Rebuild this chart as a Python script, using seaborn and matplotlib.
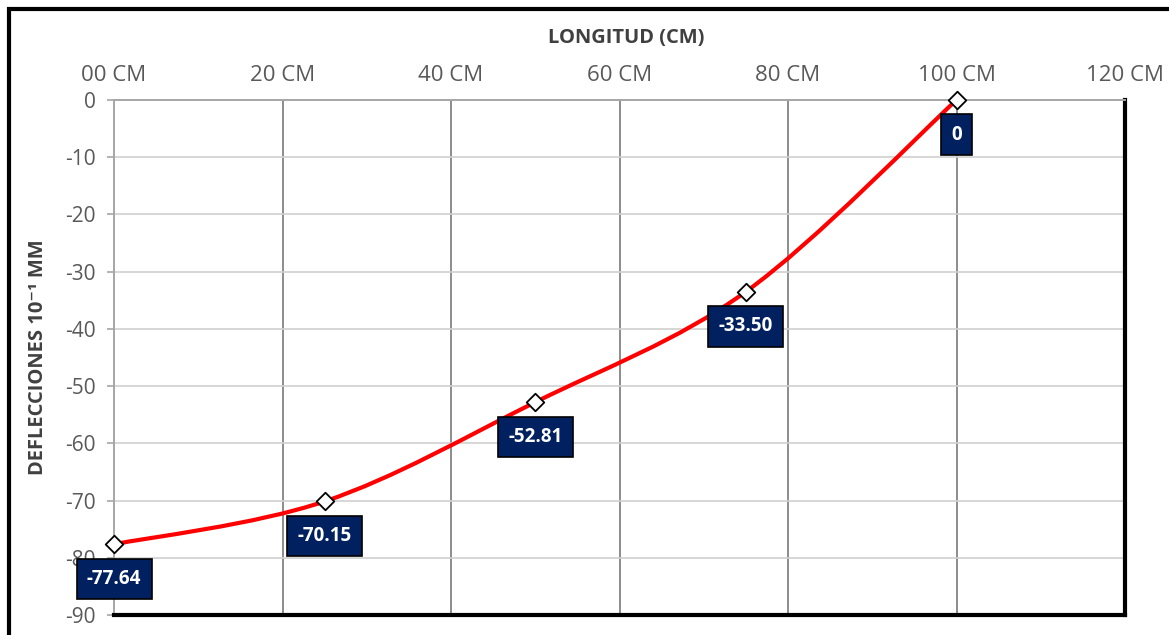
import numpy as np
import pandas as pd
import matplotlib
matplotlib.use("Agg")
import matplotlib.pyplot as plt
from matplotlib.path import Path
from matplotlib.patches import PathPatch, Rectangle
import seaborn as sns

# Deflection readings along the beam
longitud_cm = [0, 25, 50, 75, 100]
deflexion = [-77.64, -70.15, -52.81, -33.50, 0.0]
etiquetas = ["-77.64", "-70.15", "-52.81", "-33.50", "0"]
x_ticks = [0, 20, 40, 60, 80, 100, 120]
x_tick_labels = ["00 CM", "20 CM", "40 CM", "60 CM", "80 CM", "100 CM", "120 CM"]
y_ticks = [0, -10, -20, -30, -40, -50, -60, -70, -80, -90]

df = pd.DataFrame({"x": longitud_cm, "y": deflexion})

sns.set_theme(style="white")
plt.rcParams["font.family"] = ["Open Sans", "DejaVu Sans"]

fig = plt.figure(figsize=(11.69, 6.35), dpi=100)
ax = fig.add_axes([114 / 1169, 1 - 615 / 635, (1125 - 114) / 1169, (615 - 100) / 635])

ax.set_xlim(0, 120)
ax.set_ylim(-90, 0)

# grid
for v in x_ticks[1:-1]:
    ax.axvline(v, color="#8c8c8c", lw=1.4, zorder=1)
for h in y_ticks[1:-1]:
    ax.axhline(h, color="#d0d0d0", lw=1.2, zorder=1)

# smoothed curve (cubic Bezier segments, Catmull-Rom style control points)
pts = np.column_stack([longitud_cm, deflexion]).astype(float)
verts = [tuple(pts[0])]
codes = [Path.MOVETO]
n = len(pts)
for i in range(n - 1):
    p0 = pts[i - 1] if i > 0 else pts[i]
    p1 = pts[i]
    p2 = pts[i + 1]
    p3 = pts[i + 2] if i + 2 < n else pts[i + 1]
    c1 = p1 + (p2 - p0) / 6.0
    c2 = p2 - (p3 - p1) / 6.0
    verts += [tuple(c1), tuple(c2), tuple(p2)]
    codes += [Path.CURVE4, Path.CURVE4, Path.CURVE4]
ax.add_patch(PathPatch(Path(verts, codes), facecolor="none", edgecolor="#ff0000",
                       lw=3.0, capstyle="round", zorder=3, clip_on=False))

sns.scatterplot(data=df, x="x", y="y", ax=ax, marker="D", s=80, color="white",
                edgecolor="black", linewidth=1.3, zorder=5, clip_on=False, legend=False)

for xv, yv, lab in zip(longitud_cm, deflexion, etiquetas):
    ax.annotate(lab, (xv, yv), xytext=(0, -25), textcoords="offset points",
                ha="center", va="center", color="white", fontsize=13.5,
                fontweight="bold", zorder=6, annotation_clip=False,
                bbox=dict(boxstyle="square,pad=0.55", fc="#002060", ec="black", lw=1.2))

# axes styling
ax.xaxis.tick_top()
ax.set_xticks(x_ticks)
ax.set_xticklabels(x_tick_labels)
ax.set_yticks(y_ticks)
ax.set_yticklabels([str(t) for t in y_ticks])
ax.tick_params(axis="x", length=0, pad=10, labelsize=16, labelcolor="#595959")
ax.tick_params(axis="y", length=5, width=1.2, color="#a6a6a6", pad=8,
               labelsize=15, labelcolor="#595959", left=True)
for s in ["top", "left"]:
    ax.spines[s].set_color("#a6a6a6")
    ax.spines[s].set_linewidth(1.4)
for s in ["bottom", "right"]:
    ax.spines[s].set_color("black")
    ax.spines[s].set_linewidth(3)
ax.set_xlabel("")
ax.set_ylabel("")

fig.text(626 / 1169, 1 - 38 / 635, "LONGITUD (CM)", ha="center", va="center",
         fontsize=14.5, fontweight="bold", color="#404040")
fig.text(38 / 1169, 1 - 357 / 635, "DEFLECCIONES 10\u207b\u00b9 MM", ha="center",
         va="center", rotation=90, fontsize=14.5, fontweight="bold", color="#404040")

# outer chart frame
fig.patches.append(Rectangle((9 / 1169, -0.05), 1.2, 1 - 9 / 635 + 0.05,
                             transform=fig.transFigure, fill=False, ec="black", lw=3))

fig.savefig("out.png", dpi=100, facecolor="white")
